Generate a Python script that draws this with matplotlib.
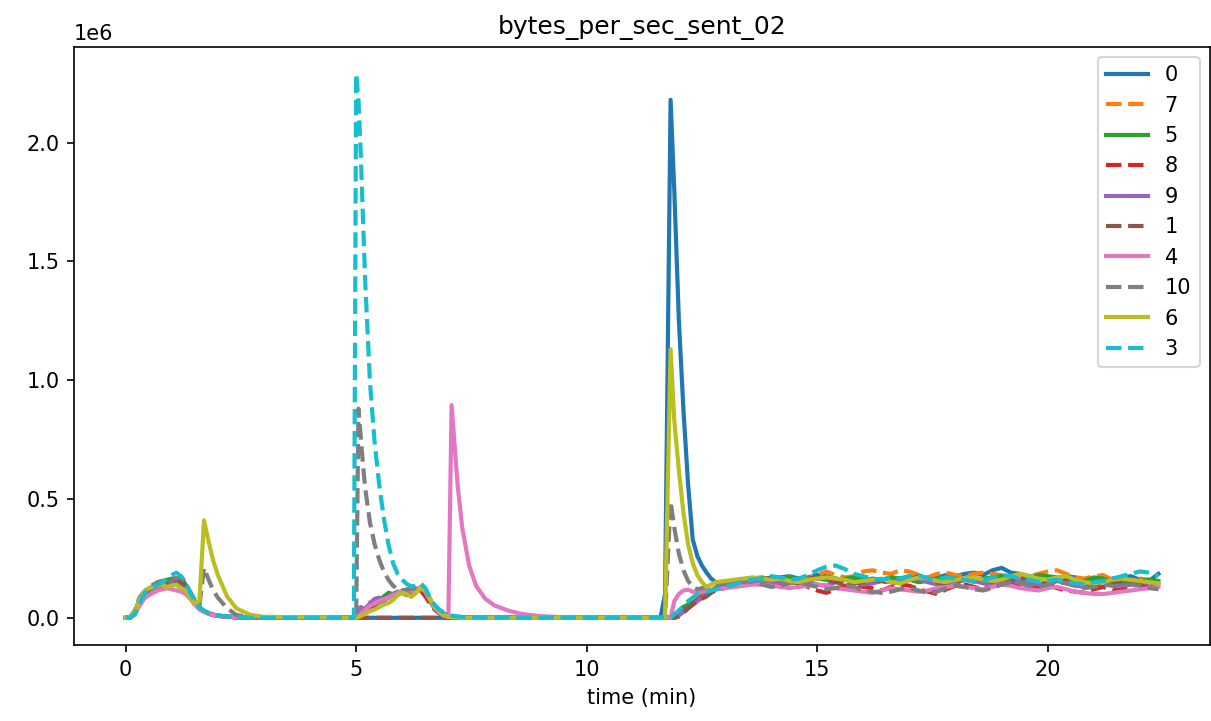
"""Recreate bytes_per_sec_sent_02: per-node send rate over time."""

import matplotlib
matplotlib.use("Agg")
import matplotlib.pyplot as plt
import numpy as np

# sample times (min) for each phase of the run
t_a = [0.0, 0.1, 0.2, 0.3, 0.4, 0.5, 0.6, 0.7, 0.8, 0.9, 1.0, 1.1, 1.2,
       1.3, 1.4, 1.5, 1.6, 1.7, 1.8, 1.9, 2.0, 2.2, 2.4, 2.7, 3.0]
t_b = [4.95, 5.0, 5.05, 5.1, 5.15, 5.2, 5.3, 5.4, 5.5, 5.6, 5.7, 5.8, 5.9,
       6.0, 6.1, 6.2, 6.3, 6.4, 6.5, 6.6, 6.7, 6.8, 6.9, 7.0, 7.07, 7.2,
       7.3, 7.45, 7.6, 7.8, 8.0, 8.3, 8.6, 9.0, 9.5]
t_c = [11.6, 11.7, 11.82, 11.9, 12.0, 12.1, 12.2, 12.3, 12.4, 12.5, 12.6,
       12.7, 12.8, 13.0, 13.2, 13.4, 13.6, 13.8, 14.0, 14.2, 14.4, 14.6,
       14.8, 15.0, 15.2, 15.4, 15.6, 15.8, 16.0, 16.2, 16.4, 16.6, 16.8,
       17.0, 17.2, 17.4, 17.6, 17.8, 18.0, 18.2, 18.4, 18.6, 18.8, 19.0,
       19.2, 19.4, 19.6, 19.8, 20.0, 20.2, 20.4, 20.6, 20.8, 21.0, 21.2,
       21.4, 21.6, 21.8, 22.0, 22.2, 22.4]

labels = ["0", "7", "5", "8", "9", "1", "4", "10", "6", "3"]

# values in kB/s
a_0 = [0, 2, 25, 70, 95, 115, 125, 135, 140, 150, 155, 150, 145, 135, 100, 65, 42, 28, 19, 13, 9, 5, 3, 1, 0]
a_7 = [0, 3, 30, 80, 105, 120, 135, 150, 155, 150, 160, 165, 155, 130, 95, 62, 40, 27, 18, 12, 8, 5, 2, 1, 0]
a_5 = [0, 2, 25, 75, 100, 120, 135, 140, 150, 160, 165, 160, 170, 140, 100, 65, 42, 28, 19, 13, 9, 5, 3, 1, 0]
a_8 = [0, 1, 15, 55, 85, 100, 115, 125, 130, 135, 140, 135, 130, 120, 90, 60, 38, 25, 17, 12, 8, 5, 2, 1, 0]
a_9 = [0, 2, 20, 65, 95, 115, 130, 140, 145, 140, 150, 160, 155, 125, 95, 62, 40, 27, 18, 12, 8, 5, 2, 1, 0]
a_1 = [0, 2, 22, 70, 95, 115, 130, 140, 150, 145, 155, 150, 160, 130, 95, 60, 38, 26, 18, 12, 8, 5, 2, 1, 0]
a_4 = [0, 1, 15, 50, 80, 95, 105, 115, 120, 125, 120, 115, 110, 100, 80, 55, 35, 25, 17, 12, 8, 5, 2, 1, 0]
a_10 = [0, 3, 30, 85, 110, 130, 140, 150, 155, 160, 170, 165, 175, 145, 110, 75, 50, 210, 160, 115, 85, 40, 12, 3, 0]
a_6 = [0, 2, 25, 75, 110, 125, 130, 135, 140, 130, 135, 140, 125, 115, 85, 60, 70, 410, 320, 240, 180, 90, 40, 13, 4]
a_3 = [0, 0, 15, 60, 100, 120, 130, 140, 150, 165, 180, 190, 175, 150, 105, 70, 45, 30, 20, 14, 10, 6, 3, 1, 0]

b_0 = [0] * 35
b_7 = [0, 0, 10, 30, 50, 60, 65, 55, 65, 80, 90, 100, 95, 105, 110, 105, 115, 130, 120, 80, 45, 22, 10, 4, 2, 1, 0, 0, 0, 0, 0, 0, 0, 0, 0]
b_5 = [0, 0, 3, 10, 18, 25, 35, 50, 70, 90, 105, 100, 110, 105, 95, 115, 120, 125, 105, 70, 40, 20, 9, 4, 2, 1, 0, 0, 0, 0, 0, 0, 0, 0, 0]
b_8 = [0, 0, 2, 8, 15, 22, 40, 55, 60, 75, 85, 95, 100, 110, 105, 115, 125, 115, 90, 60, 35, 18, 8, 3, 1, 0, 0, 0, 0, 0, 0, 0, 0, 0, 0]
b_9 = [0, 0, 40, 45, 30, 40, 60, 80, 85, 70, 90, 100, 105, 110, 120, 115, 120, 125, 110, 75, 42, 20, 9, 4, 2, 1, 0, 0, 0, 0, 0, 0, 0, 0, 0]
b_1 = [0] * 35
b_4 = [0, 0, 5, 15, 25, 35, 50, 60, 70, 78, 85, 95, 105, 115, 118, 112, 120, 128, 110, 75, 45, 22, 8, 3, 895, 560, 380, 220, 135, 80, 52, 30, 16, 7, 2]
b_10 = [0, 0, 880, 760, 640, 540, 400, 310, 245, 195, 160, 135, 120, 115, 118, 122, 125, 130, 115, 80, 50, 30, 18, 10, 6, 4, 2, 1, 0, 0, 0, 0, 0, 0, 0]
b_6 = [0, 0, 3, 8, 12, 18, 28, 35, 45, 55, 62, 75, 95, 105, 100, 88, 105, 125, 115, 80, 45, 25, 12, 5, 2, 1, 0, 0, 0, 0, 0, 0, 0, 0, 0]
b_3 = [0, 2290, 2180, 1950, 1670, 1400, 990, 740, 560, 420, 310, 230, 185, 160, 142, 132, 135, 145, 125, 85, 55, 35, 22, 14, 9, 6, 4, 2, 1, 0, 0, 0, 0, 0, 0]

c_0 = [0, 100, 2180, 1800, 1250, 870, 560, 330, 260, 220, 190, 165,
       150, 145, 150, 155, 160, 165, 160, 170, 175, 165, 170, 180, 175, 165, 160, 170, 155, 165, 160, 170, 165,
       175, 160, 155, 170, 180, 175, 185, 190, 180, 200, 210, 190, 185, 175, 170, 165, 160, 175, 170, 160, 155,
       150, 165, 170, 175, 160, 155, 185]
c_7 = [0, 0, 0, 5, 20, 40, 55, 70, 85, 95, 105, 115,
       130, 140, 150, 160, 165, 160, 150, 165, 170, 160, 165, 180, 195, 180, 170, 175, 195, 200, 190, 185, 200,
       195, 180, 170, 185, 190, 180, 175, 185, 190, 185, 180, 170, 165, 175, 185, 195, 200, 185, 170, 165, 175,
       180, 160, 150, 155, 165, 160, 150]
c_5 = [0, 0, 0, 10, 30, 46, 55, 65, 72, 85, 100, 110,
       125, 135, 150, 160, 165, 170, 160, 165, 170, 160, 155, 165, 160, 155, 165, 170, 160, 150, 155, 170, 165,
       160, 150, 155, 165, 170, 165, 160, 155, 165, 170, 175, 160, 150, 165, 180, 175, 170, 160, 150, 155, 170,
       165, 150, 145, 150, 155, 160, 155]
c_8 = [0, 0, 0, 0, 15, 30, 45, 60, 75, 90, 100, 110,
       120, 130, 140, 150, 150, 145, 135, 140, 150, 145, 130, 115, 105, 120, 135, 140, 130, 125, 115, 130, 140,
       135, 120, 110, 100, 120, 135, 140, 130, 120, 140, 150, 145, 130, 120, 130, 140, 125, 115, 110, 105, 120,
       130, 115, 120, 135, 140, 130, 125]
c_9 = [0, 0, 0, 0, 10, 25, 40, 55, 70, 85, 100, 110,
       120, 130, 140, 150, 155, 150, 145, 150, 155, 150, 145, 140, 135, 150, 160, 150, 140, 145, 155, 150, 145,
       160, 165, 150, 140, 135, 145, 160, 155, 145, 140, 150, 155, 150, 145, 140, 150, 155, 145, 135, 130, 140,
       150, 145, 135, 140, 150, 145, 140]
c_1 = [0, 0, 0, 0, 5, 20, 40, 55, 70, 80, 90, 105,
       115, 125, 140, 150, 155, 160, 170, 160, 150, 155, 165, 170, 160, 150, 140, 145, 150, 160, 155, 145, 150,
       165, 175, 165, 150, 140, 150, 165, 170, 160, 150, 145, 155, 170, 165, 150, 145, 155, 165, 160, 150, 140,
       135, 145, 155, 150, 140, 130, 125]
c_4 = [0, 0, 0, 70, 100, 115, 118, 110, 105, 110, 115, 118,
       120, 125, 130, 135, 140, 140, 135, 130, 125, 130, 135, 140, 135, 125, 120, 115, 110, 105, 115, 125, 120,
       115, 110, 115, 125, 130, 135, 130, 125, 120, 130, 140, 135, 125, 120, 115, 125, 130, 120, 110, 105, 100,
       100, 105, 110, 115, 120, 125, 130]
c_10 = [0, 0, 490, 380, 270, 200, 155, 130, 120, 125, 130, 140,
        140, 145, 150, 155, 150, 140, 130, 135, 145, 150, 140, 130, 120, 125, 135, 130, 115, 110, 105, 110, 120,
        125, 115, 105, 110, 125, 135, 130, 120, 115, 125, 140, 150, 145, 135, 130, 140, 150, 145, 135, 125, 130,
        140, 135, 130, 140, 135, 125, 120]
c_6 = [0, 0, 1130, 830, 620, 440, 310, 230, 180, 150, 130, 140,
       150, 155, 160, 165, 170, 165, 160, 165, 155, 150, 160, 165, 170, 165, 160, 150, 155, 160, 165, 150, 145,
       160, 170, 165, 155, 150, 160, 165, 170, 160, 155, 160, 175, 185, 175, 165, 160, 170, 175, 160, 150, 145,
       150, 160, 165, 160, 155, 150, 145]
c_3 = [0, 0, 0, 15, 30, 50, 70, 85, 100, 105, 110, 115,
       120, 130, 140, 155, 160, 165, 175, 170, 160, 165, 180, 200, 215, 220, 205, 185, 175, 165, 160, 170, 165,
       175, 180, 165, 160, 170, 165, 160, 150, 155, 170, 180, 175, 165, 160, 150, 155, 160, 150, 145, 140, 150,
       155, 165, 175, 185, 195, 190, 175]

series = [
    (a_0, b_0, c_0), (a_7, b_7, c_7), (a_5, b_5, c_5), (a_8, b_8, c_8),
    (a_9, b_9, c_9), (a_1, b_1, c_1), (a_4, b_4, c_4), (a_10, b_10, c_10),
    (a_6, b_6, c_6), (a_3, b_3, c_3),
]

W, H, DPI = 1211, 721, 150
fig, ax = plt.subplots(figsize=(W / DPI, H / DPI), dpi=DPI)
fig.subplots_adjust(left=74 / W, right=1210 / W, top=1 - 46.5 / H, bottom=1 - 645 / H)

t_all = np.concatenate([t_a, t_b, t_c])
for i, (label, (a, b, c)) in enumerate(zip(labels, series)):
    vals = np.concatenate([a, b, c]) * 1e3
    ls = "-" if i % 2 == 0 else "--"
    ax.plot(t_all, vals, linestyle=ls, color=f"C{i}", linewidth=2, label=label)

ax.set_title("bytes_per_sec_sent_02")
ax.set_xlabel("time (min)")
ax.legend(loc="upper right")

fig.savefig("out.png", dpi=DPI)
